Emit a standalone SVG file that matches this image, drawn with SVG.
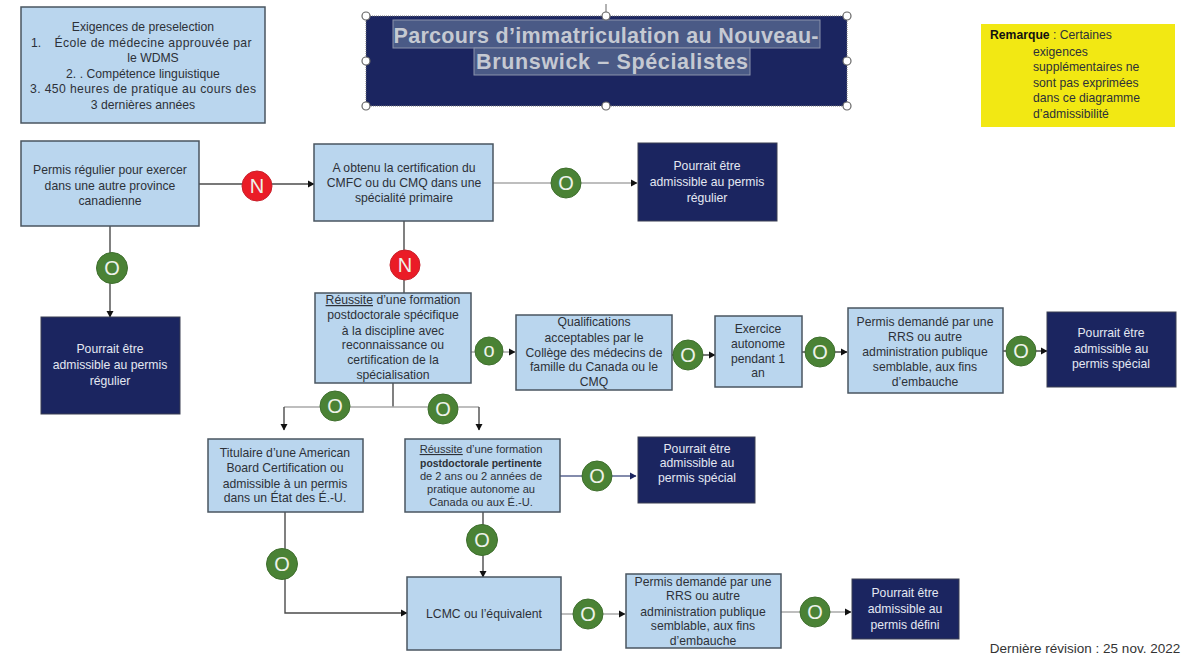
<svg xmlns="http://www.w3.org/2000/svg" width="1182" height="660" viewBox="0 0 1182 660">
<style>
text{font-family:"Liberation Sans",Arial,sans-serif;font-size:12.2px;text-anchor:middle;fill:#2d3138}
.b{fill:#bad6ee;stroke:#4a5560;stroke-width:1.5}
.n{fill:#1b2560;stroke:#3a3f52;stroke-width:1}
text.nt{fill:#e4e8f2}
.g{fill:#4a8235;stroke:#3f6f2e;stroke-width:1}
.r{fill:#ea1c27;stroke:#c8222c;stroke-width:1}
text.c{fill:#eef2ea;font-size:20px}
.l{fill:none;stroke:#4b4b4b;stroke-width:1.4}
.lg{fill:none;stroke:#a9a9a9;stroke-width:1.6}
.h{fill:#fff;stroke:#666;stroke-width:1.2}
text.tt{font-size:21.500px;font-weight:bold;fill:#c5c9d2}
.hl{fill:#4a5a86;stroke:#8b93ab;stroke-width:1}
text.s{font-size:11.1px}
text.sb{font-size:10.400px;font-weight:bold}
text.st{text-anchor:start}
text.f{font-size:13.500px;fill:#333}
</style>
<defs>
<marker id="a" markerWidth="8" markerHeight="8" refX="6" refY="4" orient="auto" markerUnits="userSpaceOnUse"><path d="M0 0.5L6.500 4L0 7.500Z" fill="#111"/></marker>
<marker id="an" markerWidth="8" markerHeight="8" refX="6" refY="4" orient="auto" markerUnits="userSpaceOnUse"><path d="M0 0.5L6.500 4L0 7.500Z" fill="#1b2560"/></marker>
</defs>
<rect width="1182" height="660" fill="#fff"/>
<g id="connectors">
<path class="l" d="M199 184H314" marker-end="url(#a)"/>
<path class="lg" d="M493 183H637" marker-end="url(#a)"/>
<path class="l" d="M110 226V317" marker-end="url(#a)"/>
<path class="l" d="M404 221V293"/>
<path class="lg" d="M471 352H515" marker-end="url(#a)"/>
<path class="l" d="M672 355H715" marker-end="url(#a)"/>
<path class="l" d="M802 352H847" marker-end="url(#a)"/>
<path class="l" d="M1003 351H1047" marker-end="url(#a)"/>
<path class="l" d="M393 383V407"/>
<path class="lg" d="M284 407H479"/>
<path class="l" d="M284 407V430" marker-end="url(#a)"/>
<path class="l" d="M479 407V430" marker-end="url(#a)"/>
<path d="M560 476H636" fill="none" stroke="#5a6590" stroke-width="1.500" marker-end="url(#an)"/>
<path class="l" d="M285 512V613H407" marker-end="url(#a)"/>
<path class="l" d="M483 512V577" marker-end="url(#a)"/>
<path class="lg" d="M561 614H625" marker-end="url(#a)"/>
<path class="lg" d="M781 612H851" marker-end="url(#a)"/>
</g>
<g id="preselection"><rect class="b" x="21" y="7" width="244" height="116"/>
<text x="143" y="31">Exigences de preselection</text>
<text x="36" y="47">1.</text><text x="153" y="47" textLength="197" lengthAdjust="spacing">École de médecine approuvée par</text>
<text x="153" y="62">le WDMS</text>
<text x="143" y="78">2.   . Compétence linguistique</text>
<text x="143" y="93" textLength="226">3. 450 heures de pratique au cours des</text>
<text x="143" y="109">3 dernières années</text></g>
<g id="titre">
<rect x="366" y="16" width="481" height="90" fill="#1b2560" stroke="#777" stroke-width="1" stroke-dasharray="1 1"/>
<rect class="hl" x="393" y="20" width="427" height="28"/><rect class="hl" x="474" y="48" width="276" height="27"/>
<text class="tt" x="606" y="43" textLength="425">Parcours d’immatriculation au Nouveau-</text>
<text class="tt" x="612" y="69" textLength="272">Brunswick – Spécialistes</text>
<path d="M606 4V16" stroke="#666" fill="none"/>
<circle class="h" cx="366" cy="16" r="4"/><circle class="h" cx="606" cy="16" r="4"/><circle class="h" cx="847" cy="16" r="4"/>
<circle class="h" cx="366" cy="61" r="4"/><circle class="h" cx="847" cy="61" r="4"/>
<circle class="h" cx="366" cy="106" r="4"/><circle class="h" cx="606" cy="106" r="4"/><circle class="h" cx="847" cy="106" r="4"/></g>
<g id="remarque"><rect x="981" y="24" width="194" height="103" fill="#f2e813"/>
<text class="st" x="990" y="39"><tspan font-weight="bold" fill="#111">Remarque</tspan> : Certaines</text>
<text class="st" x="1033" y="56">exigences</text>
<text class="st" x="1033" y="71">supplémentaires ne</text>
<text class="st" x="1033" y="87">sont pas exprimées</text>
<text class="st" x="1033" y="102">dans ce diagramme</text>
<text class="st" x="1033" y="118">d’admissibilité</text></g>
<g id="permis-regulier"><rect class="b" x="21" y="141" width="178" height="85"/>
<text x="110" y="174">Permis régulier pour exercer</text><text x="110" y="190">dans une autre province</text><text x="110" y="205">canadienne</text></g>
<g id="certification"><rect class="b" x="314" y="144" width="179" height="77"/>
<text x="404" y="172">A obtenu la certification du</text><text x="404" y="187">CMFC ou du CMQ dans une</text><text x="404" y="202">spécialité primaire</text></g>
<g id="admissible-1"><rect class="n" x="638" y="143" width="139" height="78"/>
<text class="nt" x="707" y="170">Pourrait être</text><text class="nt" x="707" y="186">admissible au permis</text><text class="nt" x="707" y="202">régulier</text></g>
<g id="admissible-2"><rect class="n" x="41" y="317" width="139" height="97"/>
<text class="nt" x="110" y="353">Pourrait être</text><text class="nt" x="110" y="369">admissible au permis</text><text class="nt" x="110" y="385">régulier</text></g>
<g id="reussite-1"><rect class="b" x="315" y="293" width="156" height="90"/>
<text x="393" y="304"><tspan text-decoration="underline">Réussite</tspan> d’une formation</text><text x="393" y="319">postdoctorale spécifique</text><text x="393" y="335">à la discipline avec</text><text x="393" y="349">reconnaissance ou</text><text x="393" y="364">certification de la</text><text x="393" y="379">spécialisation</text></g>
<g id="qualifications"><rect class="b" x="516" y="315" width="156" height="75"/>
<text x="594" y="326">Qualifications</text><text x="594" y="342">acceptables par le</text><text x="594" y="357">Collège des médecins de</text><text x="594" y="371">famille du Canada ou le</text><text x="594" y="386">CMQ</text></g>
<g id="exercice"><rect class="b" x="715" y="316" width="87" height="71"/>
<text x="758" y="333">Exercice</text><text x="758" y="348">autonome</text><text x="758" y="363">pendant 1</text><text x="758" y="377">an</text></g>
<g id="permis-rrs-1"><rect class="b" x="848" y="308" width="155" height="85"/>
<text x="925" y="326">Permis demandé par une</text><text x="925" y="341">RRS ou autre</text><text x="925" y="356">administration publique</text><text x="925" y="371">semblable, aux fins</text><text x="925" y="386">d’embauche</text></g>
<g id="admissible-3"><rect class="n" x="1047" y="312" width="129" height="75"/>
<text class="nt" x="1111" y="337">Pourrait être</text><text class="nt" x="1111" y="353">admissible au</text><text class="nt" x="1111" y="368">permis spécial</text></g>
<g id="titulaire"><rect class="b" x="208" y="439" width="155" height="73"/>
<text x="285" y="457">Titulaire d’une American</text><text x="285" y="472">Board Certification ou</text><text x="285" y="488">admissible à un permis</text><text x="285" y="502">dans un État des É.-U.</text></g>
<g id="reussite-2"><rect class="b" x="405" y="439" width="155" height="73"/>
<text class="s" x="481" y="453"><tspan text-decoration="underline">Réussite</tspan> d’une formation</text><text class="sb" x="481" y="467">postdoctorale pertinente</text><text class="s" x="481" y="480">de 2 ans ou 2 années de</text><text class="s" x="481" y="493">pratique autonome au</text><text class="s" x="481" y="506">Canada ou aux É.-U.</text></g>
<g id="admissible-4"><rect class="n" x="638" y="437" width="117" height="66"/>
<text class="nt" x="697" y="453">Pourrait être</text><text class="nt" x="697" y="467">admissible au</text><text class="nt" x="697" y="482">permis spécial</text></g>
<g id="lcmc"><rect class="b" x="407" y="577" width="154" height="73"/>
<text x="484" y="618">LCMC ou l’équivalent</text></g>
<g id="permis-rrs-2"><rect class="b" x="626" y="574" width="155" height="74"/>
<text x="703" y="586">Permis demandé par une</text><text x="703" y="600">RRS ou autre</text><text x="703" y="616">administration publique</text><text x="703" y="630">semblable, aux fins</text><text x="703" y="645">d’embauche</text></g>
<g id="admissible-5"><rect class="n" x="852" y="579" width="107" height="60"/>
<text class="nt" x="905" y="597">Pourrait être</text><text class="nt" x="905" y="613">admissible au</text><text class="nt" x="905" y="629">permis défini</text></g>
<g id="pastilles">
<circle class="r" cx="257" cy="186" r="15"/><text class="c" x="257" y="193">N</text>
<circle class="g" cx="566" cy="183" r="15"/><text class="c" x="566" y="190">O</text>
<circle class="g" cx="112" cy="268" r="15.500"/><text class="c" x="112" y="275">O</text>
<circle class="r" cx="405" cy="265" r="15"/><text class="c" x="405" y="272">N</text>
<circle class="g" cx="489" cy="351" r="14"/><text class="c" x="489" y="357">o</text>
<circle class="g" cx="688" cy="355" r="15"/><text class="c" x="688" y="362">O</text>
<circle class="g" cx="820" cy="352" r="15"/><text class="c" x="820" y="359">O</text>
<circle class="g" cx="1021" cy="351" r="15"/><text class="c" x="1021" y="358">O</text>
<circle class="g" cx="335" cy="406" r="15"/><text class="c" x="335" y="413">O</text>
<circle class="g" cx="443" cy="409" r="15"/><text class="c" x="443" y="416">O</text>
<circle class="g" cx="597" cy="476" r="15"/><text class="c" x="597" y="483">O</text>
<circle class="g" cx="282" cy="564" r="15.500"/><text class="c" x="282" y="571">O</text>
<circle class="g" cx="482" cy="540" r="15.500"/><text class="c" x="482" y="547">O</text>
<circle class="g" cx="588" cy="614" r="15"/><text class="c" x="588" y="621">O</text>
<circle class="g" cx="815" cy="612" r="15"/><text class="c" x="815" y="619">O</text>
</g>
<text class="f" x="1085" y="653">Dernière révision : 25 nov. 2022</text>
</svg>
